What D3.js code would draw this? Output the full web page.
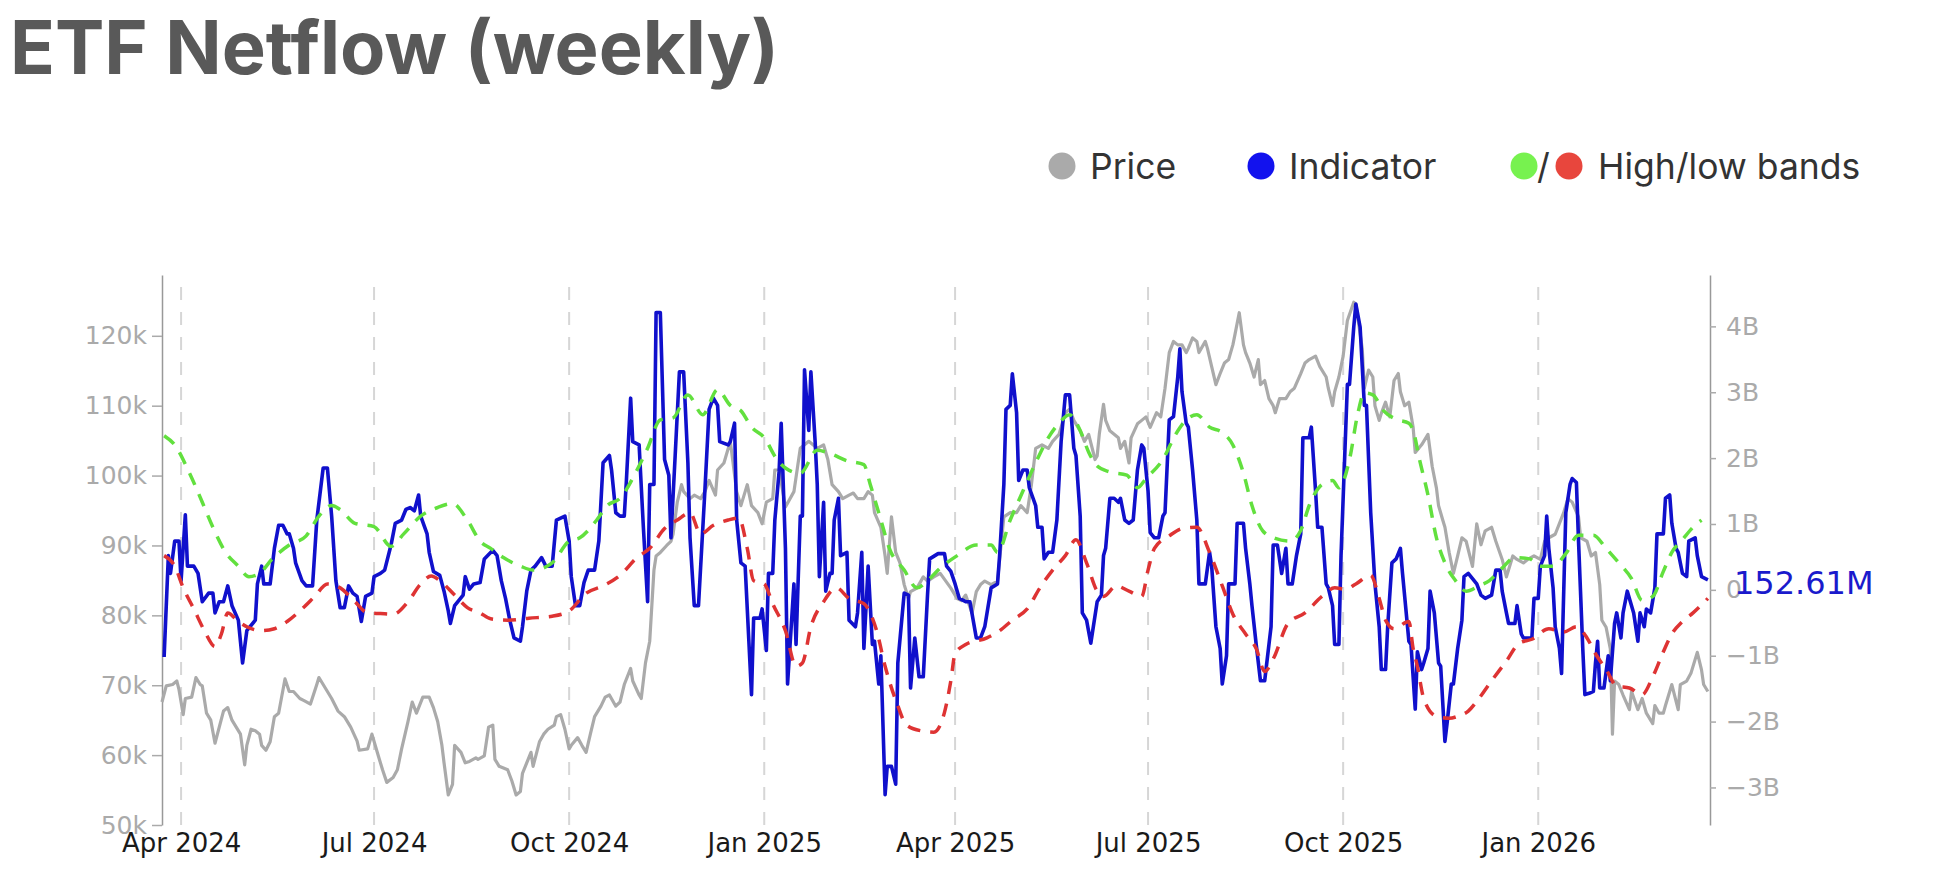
<!DOCTYPE html>
<html>
<head>
<meta charset="utf-8">
<script src="https://cdn.jsdelivr.net/npm/d3@7"></script>
<style>
  body { margin: 0; background: #fff; }
  svg { display: block; }
</style>
</head>
<body>
<svg id="chart" width="1942" height="878"></svg>
<script>
// BTC price, in thousands of USD
const priceK = [
  ["2024-03-23",67.6],["2024-03-25",69.9],["2024-03-28",70.1],["2024-03-30",70.6],["2024-03-31",69.4],["2024-04-02",65.8],["2024-04-03",68.1],["2024-04-06",68.3],["2024-04-08",71.1],["2024-04-10",70.1],["2024-04-11",69.9],["2024-04-13",66.0],["2024-04-15",65.0],["2024-04-17",61.7],["2024-04-19",64.0],["2024-04-21",66.3],["2024-04-23",66.8],["2024-04-25",65.0],["2024-04-27",64.0],["2024-04-29",63.0],["2024-05-01",58.6],["2024-05-02",61.4],["2024-05-04",63.7],["2024-05-06",63.5],["2024-05-08",63.0],["2024-05-09",61.4],["2024-05-11",60.7],["2024-05-13",61.9],["2024-05-15",65.5],["2024-05-17",66.0],["2024-05-20",70.9],["2024-05-22",69.1],["2024-05-24",69.1],["2024-05-27",68.1],["2024-05-29",67.8],["2024-06-01",67.3],["2024-06-04",70.1],["2024-06-05",71.1],["2024-06-08",69.6],["2024-06-11",68.1],["2024-06-14",66.3],["2024-06-17",65.5],["2024-06-20",64.0],["2024-06-23",62.0],["2024-06-24",60.7],["2024-06-28",60.9],["2024-06-30",63.0],["2024-07-03",59.9],["2024-07-05",57.9],["2024-07-07",56.1],["2024-07-10",56.8],["2024-07-12",57.9],["2024-07-14",60.9],["2024-07-17",64.8],["2024-07-19",67.6],["2024-07-21",66.0],["2024-07-24",68.3],["2024-07-27",68.3],["2024-07-29",66.8],["2024-07-31",64.8],["2024-08-02",61.4],["2024-08-03",58.9],["2024-08-05",54.3],["2024-08-07",55.8],["2024-08-08",61.4],["2024-08-11",60.4],["2024-08-13",58.9],["2024-08-15",59.1],["2024-08-18",59.6],
  ["2024-08-19",59.4],["2024-08-22",59.9],["2024-08-24",64.0],["2024-08-26",64.3],["2024-08-27",59.4],["2024-08-29",58.4],["2024-09-02",57.9],["2024-09-04",56.3],["2024-09-06",54.3],["2024-09-08",54.8],["2024-09-09",57.4],["2024-09-11",58.9],["2024-09-13",60.4],["2024-09-14",58.4],["2024-09-17",61.9],["2024-09-19",63.0],["2024-09-21",63.7],["2024-09-24",64.3],["2024-09-25",65.5],["2024-09-27",65.8],["2024-09-29",63.7],["2024-10-01",60.9],["2024-10-02",61.4],["2024-10-05",62.5],["2024-10-07",61.4],["2024-10-09",60.4],["2024-10-11",63.0],["2024-10-13",65.5],["2024-10-16",67.0],["2024-10-18",68.3],["2024-10-20",68.6],["2024-10-23",67.0],["2024-10-25",67.6],["2024-10-27",70.1],["2024-10-30",72.4],["2024-10-31",70.6],["2024-11-03",68.6],["2024-11-04",68.1],["2024-11-06",73.2],["2024-11-08",76.3],["2024-11-10",86.5],["2024-11-11",88.5],["2024-11-13",89.0],["2024-11-16",90.0],["2024-11-18",90.6],["2024-11-19",91.6],["2024-11-21",96.2],["2024-11-23",98.7],["2024-11-24",97.7],["2024-11-27",96.7],["2024-11-29",97.2],["2024-12-02",96.7],["2024-12-04",97.7],["2024-12-06",99.3],["2024-12-09",97.2],["2024-12-10",100.8],["2024-12-13",101.8],["2024-12-16",104.9],["2024-12-19",97.7],["2024-12-21",95.7],["2024-12-24",98.7],["2024-12-26",95.7],["2024-12-29",94.7],["2024-12-31",93.1],["2025-01-02",96.2],["2025-01-05",96.7],["2025-01-06",100.8],["2025-01-08",100.8],["2025-01-11",95.5],
  ["2025-01-15",97.7],["2025-01-18",103.9],["2025-01-20",104.4],["2025-01-22",104.9],["2025-01-26",103.9],["2025-01-29",104.4],["2025-01-31",102.3],["2025-02-02",98.7],["2025-02-05",97.7],["2025-02-07",96.7],["2025-02-10",97.2],["2025-02-12",97.5],["2025-02-14",96.7],["2025-02-17",96.7],["2025-02-19",97.7],["2025-02-21",97.2],["2025-02-22",94.7],["2025-02-25",92.6],["2025-02-27",88.5],["2025-02-28",86.0],["2025-03-02",94.1],["2025-03-04",89.0],["2025-03-06",87.5],["2025-03-08",84.4],["2025-03-10",82.4],["2025-03-11",83.4],["2025-03-14",83.9],["2025-03-17",85.5],["2025-03-19",84.9],["2025-03-22",85.5],["2025-03-25",86.0],["2025-03-30",83.9],["2025-04-02",82.4],["2025-04-04",82.1],["2025-04-06",82.9],["2025-04-09",80.3],["2025-04-11",83.4],["2025-04-13",84.4],["2025-04-15",84.9],["2025-04-18",84.4],["2025-04-21",84.9],["2025-04-24",94.1],["2025-04-27",94.7],["2025-04-30",94.7],["2025-05-02",95.7],["2025-05-05",94.7],["2025-05-07",98.7],["2025-05-09",103.9],["2025-05-12",104.4],["2025-05-15",103.9],["2025-05-17",104.9],["2025-05-20",105.9],["2025-05-23",109.0],["2025-05-25",109.5],["2025-05-27",107.9],["2025-05-30",106.4],["2025-06-01",104.9],["2025-06-03",105.9],["2025-06-06",102.3],["2025-06-07",102.8],
  ["2025-06-08",105.9],["2025-06-10",110.2],["2025-06-11",107.9],["2025-06-13",106.4],["2025-06-15",105.9],["2025-06-17",105.4],["2025-06-18",103.9],["2025-06-20",104.9],["2025-06-22",101.8],["2025-06-23",105.4],["2025-06-26",107.4],["2025-06-28",107.9],["2025-06-30",108.4],["2025-07-02",106.9],["2025-07-05",109.0],["2025-07-07",108.4],["2025-07-09",112.5],["2025-07-11",117.6],["2025-07-13",119.2],["2025-07-15",118.7],["2025-07-17",118.7],["2025-07-19",117.6],["2025-07-20",118.2],["2025-07-22",119.7],["2025-07-24",119.2],["2025-07-25",117.6],["2025-07-28",119.2],["2025-07-29",118.2],["2025-07-31",115.6],["2025-08-02",113.0],["2025-08-04",114.6],["2025-08-06",116.1],["2025-08-08",116.6],["2025-08-10",118.7],["2025-08-11",120.2],["2025-08-13",123.3],["2025-08-15",118.7],["2025-08-16",117.6],["2025-08-18",116.1],["2025-08-20",114.1],["2025-08-22",116.6],["2025-08-23",113.0],["2025-08-25",113.6],["2025-08-27",111.0],["2025-08-29",110.0],["2025-08-30",109.0],["2025-09-01",111.0],["2025-09-04",111.0],["2025-09-06",112.0],["2025-09-08",112.5],["2025-09-11",114.6],["2025-09-13",116.1],["2025-09-15",116.6],["2025-09-18",117.1],["2025-09-20",115.6],["2025-09-23",114.1],["2025-09-24",112.5],["2025-09-26",110.0],["2025-09-27",112.0],["2025-09-29",114.1],["2025-10-01",117.1],["2025-10-03",122.2],["2025-10-06",124.8],["2025-10-07",124.5],["2025-10-10",118.2],["2025-10-11",112.5],["2025-10-13",115.1],["2025-10-15",114.1],["2025-10-16",110.0],["2025-10-18",107.9],["2025-10-19",108.9],["2025-10-21",110.5],["2025-10-23",108.4],["2025-10-25",113.6],["2025-10-27",114.6],["2025-10-28",112.0],["2025-10-30",110.0],["2025-11-01",110.5],
  ["2025-11-03",106.9],["2025-11-04",103.3],["2025-11-07",104.4],["2025-11-09",105.4],["2025-11-10",105.9],["2025-11-12",101.3],["2025-11-14",98.2],["2025-11-15",95.7],["2025-11-17",93.6],["2025-11-18",92.6],["2025-11-20",89.0],["2025-11-22",86.0],["2025-11-24",88.5],["2025-11-26",91.1],["2025-11-28",90.6],["2025-12-01",87.0],["2025-12-03",93.1],["2025-12-05",90.1],["2025-12-07",92.1],["2025-12-10",92.6],["2025-12-12",90.6],["2025-12-15",88.0],["2025-12-17",85.5],["2025-12-20",88.5],["2025-12-22",88.0],["2025-12-25",87.5],["2025-12-27",88.0],["2025-12-30",88.5],["2026-01-02",88.0],["2026-01-04",90.6],["2026-01-06",91.1],["2026-01-09",91.6],["2026-01-13",94.7],["2026-01-15",96.7],["2026-01-17",96.2],["2026-01-20",94.1],["2026-01-21",91.1],["2026-01-24",90.6],["2026-01-26",88.5],["2026-01-28",89.0],["2026-01-30",84.4],["2026-01-31",79.3],["2026-02-02",78.3],["2026-02-04",75.2],["2026-02-05",63.0],["2026-02-06",70.6],["2026-02-08",70.1],["2026-02-10",68.6],["2026-02-13",66.5],["2026-02-14",69.1],["2026-02-17",66.5],["2026-02-19",68.1],["2026-02-21",66.0],["2026-02-24",64.5],["2026-02-25",67.1],["2026-02-27",66.0],["2026-03-01",66.0],["2026-03-02",67.1],["2026-03-04",69.1],["2026-03-05",70.1],["2026-03-08",66.5],["2026-03-09",70.1],["2026-03-12",70.6],["2026-03-14",71.7],["2026-03-16",73.7],["2026-03-17",74.7],["2026-03-19",72.2],["2026-03-20",70.1],["2026-03-22",69.1]
];

// ETF netflow indicator, in billions of USD
const netflowB = [
  ["2024-03-24",-1.02],["2024-03-26",0.52],["2024-03-27",0.25],["2024-03-29",0.74],["2024-03-31",0.74],["2024-04-01",0.14],["2024-04-03",1.14],["2024-04-04",0.36],["2024-04-07",0.36],["2024-04-09",0.25],["2024-04-11",-0.18],["2024-04-14",-0.05],["2024-04-16",-0.05],["2024-04-17",-0.35],["2024-04-19",-0.18],["2024-04-21",-0.18],["2024-04-23",0.06],["2024-04-25",-0.24],["2024-04-28",-0.46],["2024-04-30",-1.11],["2024-05-02",-0.62],["2024-05-06",-0.46],["2024-05-07",0.09],["2024-05-09",0.36],["2024-05-10",0.09],["2024-05-13",0.09],["2024-05-15",0.63],["2024-05-17",0.98],["2024-05-19",0.98],["2024-05-21",0.85],["2024-05-22",0.85],["2024-05-24",0.63],["2024-05-25",0.41],["2024-05-28",0.14],["2024-05-30",0.06],["2024-06-02",0.06],["2024-06-04",1.06],["2024-06-07",1.85],["2024-06-09",1.85],["2024-06-11",1.12],["2024-06-13",0.14],["2024-06-15",-0.27],["2024-06-17",-0.27],["2024-06-19",0.06],["2024-06-21",-0.05],["2024-06-23",-0.10],["2024-06-25",-0.48],["2024-06-27",-0.10],["2024-06-30",-0.05],["2024-07-01",0.20],["2024-07-04",0.25],["2024-07-06",0.30],["2024-07-09",0.68],["2024-07-11",1.01],["2024-07-14",1.06],["2024-07-16",1.22],["2024-07-18",1.25],["2024-07-20",1.20],["2024-07-22",1.44],["2024-07-23",1.12],["2024-07-26",0.85],["2024-07-27",0.57],["2024-07-29",0.28],["2024-08-01",0.22],["2024-08-03",-0.02],["2024-08-05",-0.32],["2024-08-06",-0.51],["2024-08-08",-0.24],["2024-08-10",-0.16],["2024-08-12",-0.08],["2024-08-13",0.20],["2024-08-15",0.01],["2024-08-17",0.09],["2024-08-20",0.11],
  ["2024-08-22",0.47],["2024-08-26",0.60],["2024-08-28",0.52],["2024-08-30",0.14],["2024-09-01",-0.13],["2024-09-03",-0.46],["2024-09-05",-0.73],["2024-09-08",-0.78],["2024-09-09",-0.56],["2024-09-11",-0.02],["2024-09-13",0.30],["2024-09-15",0.36],["2024-09-18",0.49],["2024-09-20",0.36],["2024-09-23",0.36],["2024-09-25",1.06],["2024-09-29",1.12],["2024-10-01",0.74],["2024-10-02",0.20],["2024-10-04",-0.24],["2024-10-06",-0.24],["2024-10-08",0.11],["2024-10-10",0.30],["2024-10-13",0.30],["2024-10-15",0.74],["2024-10-17",1.93],["2024-10-20",2.04],["2024-10-21",1.82],["2024-10-23",1.17],["2024-10-25",1.12],["2024-10-27",1.12],["2024-10-28",1.66],["2024-10-30",2.91],["2024-10-31",2.25],["2024-11-03",2.20],["2024-11-05",0.95],["2024-11-07",-0.18],["2024-11-08",1.60],["2024-11-10",1.60],["2024-11-11",4.21],["2024-11-13",4.21],["2024-11-15",1.98],["2024-11-17",1.74],["2024-11-18",0.79],["2024-11-20",2.04],["2024-11-22",3.31],["2024-11-24",3.31],["2024-11-26",1.93],["2024-11-27",0.79],["2024-11-29",-0.24],["2024-12-01",-0.24],["2024-12-04",1.50],["2024-12-06",2.74],["2024-12-08",2.91],["2024-12-10",2.80],["2024-12-11",2.25],["2024-12-15",2.20],["2024-12-16",2.25],["2024-12-18",2.53],["2024-12-19",1.06],["2024-12-21",0.41],["2024-12-23",0.36],["2024-12-26",-1.59],["2024-12-27",-0.43],["2024-12-30",-0.43],["2024-12-31",-0.29],["2025-01-02",-0.92],["2025-01-03",0.25],["2025-01-05",0.25],["2025-01-06",1.06],["2025-01-08",1.79],["2025-01-09",2.53],["2025-01-11",0.63],["2025-01-12",-1.43],
  ["2025-01-15",0.09],["2025-01-16",-0.83],["2025-01-18",1.12],["2025-01-19",1.12],["2025-01-20",3.34],["2025-01-22",2.42],["2025-01-23",3.31],["2025-01-25",2.25],["2025-01-26",1.60],["2025-01-27",0.20],["2025-01-29",1.33],["2025-01-30",-0.02],["2025-02-01",0.25],["2025-02-02",0.25],["2025-02-03",1.06],["2025-02-05",1.39],["2025-02-06",0.52],["2025-02-09",0.57],["2025-02-10",-0.46],["2025-02-13",-0.56],["2025-02-14",-0.35],["2025-02-16",0.57],["2025-02-17",-0.89],["2025-02-19",0.36],["2025-02-21",-0.83],["2025-02-22",-0.78],["2025-02-24",-1.43],["2025-02-25",-1.00],["2025-02-27",-3.11],["2025-02-28",-2.68],["2025-03-02",-2.68],["2025-03-04",-2.95],["2025-03-05",-1.11],["2025-03-08",-0.05],["2025-03-10",-0.08],["2025-03-11",-1.49],["2025-03-13",-0.73],["2025-03-15",-1.32],["2025-03-17",-1.32],["2025-03-19",-0.08],["2025-03-20",0.47],["2025-03-24",0.55],["2025-03-27",0.55],["2025-03-28",0.36],["2025-03-30",0.28],["2025-04-01",0.09],["2025-04-03",-0.13],["2025-04-06",-0.18],["2025-04-08",-0.18],["2025-04-11",-0.73],["2025-04-13",-0.73],["2025-04-15",-0.56],["2025-04-18",0.03],["2025-04-21",0.09],["2025-04-22",0.52],["2025-04-24",1.60],["2025-04-25",2.74],["2025-04-27",2.80],["2025-04-28",3.28],["2025-04-30",2.69],["2025-05-01",1.66],["2025-05-03",1.82],["2025-05-05",1.82],["2025-05-06",1.55],["2025-05-09",1.28],["2025-05-10",0.95],["2025-05-12",0.95],["2025-05-13",0.47],["2025-05-15",0.57],["2025-05-17",0.57],["2025-05-19",1.06],["2025-05-21",2.25],["2025-05-23",2.96],["2025-05-25",2.96],["2025-05-27",2.15],["2025-05-28",2.04],["2025-05-30",1.12],["2025-05-31",-0.35],["2025-06-02",-0.46],["2025-06-04",-0.81],["2025-06-07",-0.18],
  ["2025-06-09",-0.08],["2025-06-10",0.52],["2025-06-11",0.63],["2025-06-13",1.39],["2025-06-15",1.39],["2025-06-17",1.33],["2025-06-18",1.39],["2025-06-20",1.06],["2025-06-22",1.01],["2025-06-24",1.06],["2025-06-26",1.82],["2025-06-28",2.20],["2025-06-29",2.15],["2025-07-01",1.50],["2025-07-02",0.87],["2025-07-04",0.79],["2025-07-06",0.79],["2025-07-08",1.12],["2025-07-09",1.17],["2025-07-11",2.58],["2025-07-13",2.63],["2025-07-15",3.23],["2025-07-16",3.66],["2025-07-17",3.01],["2025-07-19",2.53],["2025-07-20",2.47],["2025-07-22",1.82],["2025-07-24",1.06],["2025-07-25",0.09],["2025-07-28",0.09],["2025-07-30",0.57],["2025-07-31",0.36],["2025-08-02",-0.56],["2025-08-04",-0.89],["2025-08-05",-1.43],["2025-08-07",-1.00],["2025-08-08",0.09],["2025-08-11",0.09],["2025-08-12",1.01],["2025-08-15",1.01],["2025-08-16",0.63],["2025-08-18",0.09],["2025-08-19",-0.24],["2025-08-21",-0.83],["2025-08-23",-1.38],["2025-08-25",-1.38],["2025-08-28",-0.56],["2025-08-29",0.68],["2025-08-31",0.68],["2025-09-02",0.25],["2025-09-04",0.63],["2025-09-05",0.09],["2025-09-07",0.09],["2025-09-09",0.52],["2025-09-11",0.85],["2025-09-12",2.31],["2025-09-15",2.31],["2025-09-16",2.47],["2025-09-18",1.50],["2025-09-19",0.95],["2025-09-21",0.95],["2025-09-23",0.09],["2025-09-24",0.03],["2025-09-26",-0.24],["2025-09-27",-0.83],["2025-09-29",-0.83],["2025-09-30",0.52],["2025-10-03",3.12],["2025-10-04",3.12],["2025-10-06",3.99],["2025-10-07",4.34],["2025-10-09",3.99],["2025-10-11",2.80],["2025-10-12",2.80],["2025-10-14",1.17],["2025-10-16",0.09],["2025-10-18",-0.56],["2025-10-19",-1.21],["2025-10-21",-1.21],["2025-10-22",-0.56],["2025-10-24",0.41],["2025-10-26",0.47],["2025-10-28",0.63],["2025-10-29",0.25],["2025-11-01",-0.78],
  ["2025-11-02",-0.83],["2025-11-04",-1.81],["2025-11-05",-0.94],["2025-11-07",-1.21],["2025-11-08",-1.11],["2025-11-10",-0.89],["2025-11-11",-0.02],["2025-11-13",-0.35],["2025-11-15",-1.11],["2025-11-16",-1.16],["2025-11-18",-2.30],["2025-11-19",-2.03],["2025-11-21",-1.43],["2025-11-22",-1.43],["2025-11-24",-0.89],["2025-11-26",-0.46],["2025-11-27",0.20],["2025-11-29",0.25],["2025-12-03",0.09],["2025-12-05",-0.08],["2025-12-07",-0.13],["2025-12-10",-0.08],["2025-12-12",0.30],["2025-12-14",0.30],["2025-12-15",-0.02],["2025-12-17",-0.35],["2025-12-18",-0.51],["2025-12-21",-0.51],["2025-12-22",-0.24],["2025-12-24",-0.67],["2025-12-25",-0.73],["2025-12-29",-0.73],["2025-12-30",-0.13],["2026-01-01",-0.13],["2026-01-02",0.36],["2026-01-04",0.52],["2026-01-05",1.12],["2026-01-06",0.63],["2026-01-08",0.03],["2026-01-09",-0.56],["2026-01-11",-0.89],["2026-01-12",-1.27],["2026-01-14",1.17],["2026-01-16",1.60],["2026-01-17",1.69],["2026-01-19",1.63],["2026-01-20",0.74],["2026-01-22",-0.89],["2026-01-23",-1.59],["2026-01-25",-1.57],["2026-01-27",-1.54],["2026-01-28",-1.11],["2026-01-29",-0.78],["2026-01-30",-1.49],["2026-02-01",-1.49],["2026-02-03",-1.00],["2026-02-04",-1.38],["2026-02-06",-0.51],["2026-02-07",-0.35],["2026-02-09",-0.73],["2026-02-10",-0.35],["2026-02-12",-0.02],["2026-02-14",-0.24],["2026-02-15",-0.35],["2026-02-17",-0.78],["2026-02-18",-0.35],["2026-02-20",-0.56],["2026-02-21",-0.29],["2026-02-23",-0.35],["2026-02-25",0.03],["2026-02-26",0.85],["2026-03-01",0.85],["2026-03-02",1.39],["2026-03-04",1.44],["2026-03-05",1.01],["2026-03-07",0.63],["2026-03-08",0.57],["2026-03-10",0.25],["2026-03-12",0.20],["2026-03-13",0.74],["2026-03-16",0.79],["2026-03-17",0.52],["2026-03-19",0.20],["2026-03-22",0.15261]
];

// high band (green) and low band (red), billions
const highBand = [
  ["2024-03-24",2.34],["2024-03-29",2.20],["2024-04-05",1.77],["2024-04-11",1.33],["2024-04-16",0.95],["2024-04-22",0.57],["2024-04-28",0.36],["2024-05-03",0.20],["2024-05-08",0.25],["2024-05-14",0.47],["2024-05-22",0.68],["2024-05-30",0.82],["2024-06-05",1.12],["2024-06-11",1.28],["2024-06-15",1.22],["2024-06-22",1.01],["2024-07-01",0.96],["2024-07-09",0.66],["2024-07-15",0.85],["2024-07-23",1.12],["2024-07-31",1.25],["2024-08-07",1.31],["2024-08-14",1.06],["2024-08-20",0.74],
  ["2024-08-25",0.63],["2024-08-31",0.49],["2024-09-08",0.36],["2024-09-14",0.30],["2024-09-23",0.41],["2024-10-01",0.74],["2024-10-06",0.79],["2024-10-14",1.06],["2024-10-19",1.28],["2024-10-25",1.39],["2024-11-02",1.82],["2024-11-07",2.15],["2024-11-13",2.58],["2024-11-19",2.61],["2024-11-26",2.96],["2024-12-03",2.66],["2024-12-10",3.04],["2024-12-16",2.80],["2024-12-21",2.72],["2024-12-26",2.47],["2025-01-01",2.31],["2025-01-07",1.98],["2025-01-11",1.85],
  ["2025-01-18",1.77],["2025-01-26",2.12],["2025-02-01",2.07],["2025-02-09",1.96],["2025-02-17",1.90],["2025-02-20",1.60],["2025-02-25",1.06],["2025-03-01",0.63],["2025-03-08",0.30],["2025-03-14",0.03],["2025-03-19",0.14],["2025-03-25",0.33],["2025-04-02",0.52],["2025-04-11",0.68],["2025-04-18",0.68],["2025-04-21",0.57],["2025-04-27",1.06],["2025-05-03",1.50],["2025-05-09",1.93],["2025-05-15",2.31],["2025-05-20",2.53],["2025-05-25",2.66],["2025-05-30",2.42],["2025-06-03",2.09],["2025-06-07",1.88],
  ["2025-06-13",1.79],["2025-06-21",1.74],["2025-06-26",1.55],["2025-06-30",1.69],["2025-07-08",1.98],["2025-07-14",2.36],["2025-07-19",2.58],["2025-07-24",2.66],["2025-07-30",2.47],["2025-08-05",2.39],["2025-08-10",2.20],["2025-08-15",1.77],["2025-08-19",1.28],["2025-08-24",0.90],["2025-08-30",0.78],["2025-09-06",0.74],["2025-09-11",0.90],["2025-09-15",1.28],["2025-09-21",1.60],["2025-09-26",1.66],["2025-09-29",1.55],["2025-10-04",1.98],["2025-10-08",2.69],["2025-10-11",2.99],["2025-10-15",2.96],["2025-10-20",2.72],["2025-10-26",2.59],["2025-11-01",2.53],
  ["2025-11-03",2.42],["2025-11-06",1.98],["2025-11-10",1.44],["2025-11-14",0.79],["2025-11-18",0.41],["2025-11-23",0.14],["2025-11-28",-0.02],["2025-12-04",0.06],["2025-12-09",0.14],["2025-12-15",0.33],["2025-12-21",0.49],["2025-12-28",0.47],["2026-01-02",0.36],["2026-01-08",0.36],["2026-01-14",0.55],["2026-01-20",0.83],["2026-01-27",0.83],["2026-02-02",0.63],["2026-02-08",0.41],["2026-02-14",0.17],["2026-02-19",-0.16],["2026-02-24",-0.10],["2026-03-01",0.28],["2026-03-05",0.57],["2026-03-10",0.76],["2026-03-15",0.95],["2026-03-19",1.06]
];

const lowBand = [
  ["2024-03-24",0.52],["2024-03-29",0.36],["2024-04-02",0.03],["2024-04-07",-0.29],["2024-04-12",-0.62],["2024-04-17",-0.86],["2024-04-20",-0.67],["2024-04-23",-0.35],["2024-04-28",-0.48],["2024-05-02",-0.56],["2024-05-09",-0.62],["2024-05-15",-0.59],["2024-05-21",-0.48],["2024-05-28",-0.29],["2024-06-03",-0.10],["2024-06-09",0.09],["2024-06-15",0.03],["2024-06-22",-0.18],["2024-06-28",-0.35],["2024-07-04",-0.36],["2024-07-10",-0.37],["2024-07-17",-0.18],["2024-07-23",0.09],["2024-07-28",0.21],["2024-08-01",0.14],["2024-08-08",-0.08],["2024-08-14",-0.27],["2024-08-20",-0.35],
  ["2024-08-25",-0.44],["2024-09-02",-0.46],["2024-09-12",-0.43],["2024-09-23",-0.40],["2024-10-01",-0.32],["2024-10-09",-0.05],["2024-10-17",0.06],["2024-10-25",0.22],["2024-11-02",0.49],["2024-11-08",0.63],["2024-11-15",0.93],["2024-11-21",1.06],["2024-11-27",1.17],["2024-12-02",0.85],["2024-12-08",0.98],["2024-12-15",1.06],["2024-12-20",1.09],["2024-12-24",0.63],["2024-12-27",0.14],["2025-01-01",0.09],["2025-01-05",-0.21],["2025-01-11",-0.62],
  ["2025-01-16",-1.16],["2025-01-19",-1.11],["2025-01-23",-0.56],["2025-01-29",-0.18],["2025-02-04",0.03],["2025-02-10",-0.13],["2025-02-17",-0.21],["2025-02-23",-0.62],["2025-02-27",-1.16],["2025-03-05",-1.76],["2025-03-09",-2.05],["2025-03-16",-2.14],["2025-03-22",-2.16],["2025-03-27",-1.86],["2025-03-30",-1.38],["2025-04-01",-0.97],["2025-04-06",-0.83],["2025-04-16",-0.73],["2025-04-22",-0.62],["2025-04-28",-0.46],["2025-05-05",-0.29],["2025-05-11",0.03],["2025-05-17",0.30],["2025-05-23",0.52],["2025-05-28",0.76],["2025-06-02",0.41],["2025-06-07",-0.02],
  ["2025-06-10",-0.10],["2025-06-16",0.06],["2025-06-22",-0.02],["2025-06-28",-0.10],["2025-07-01",0.30],["2025-07-04",0.63],["2025-07-11",0.82],["2025-07-17",0.93],["2025-07-24",0.95],["2025-07-30",0.57],["2025-08-05",0.06],["2025-08-10",-0.37],["2025-08-16",-0.67],["2025-08-21",-0.89],["2025-08-25",-1.24],["2025-08-29",-1.05],["2025-09-05",-0.51],["2025-09-13",-0.35],["2025-09-21",-0.10],["2025-09-27",0.03],["2025-10-02",0.01],["2025-10-07",0.09],["2025-10-14",0.22],["2025-10-18",-0.13],["2025-10-21",-0.46],["2025-10-25",-0.59],["2025-11-01",-0.48],
  ["2025-11-03",-0.89],["2025-11-05",-1.16],["2025-11-08",-1.65],["2025-11-14",-1.92],["2025-11-20",-1.95],["2025-11-24",-1.92],["2025-11-29",-1.84],["2025-12-04",-1.65],["2025-12-10",-1.38],["2025-12-17",-1.08],["2025-12-23",-0.81],["2025-12-29",-0.75],["2026-01-06",-0.59],["2026-01-13",-0.64],["2026-01-19",-0.56],["2026-01-24",-0.73],["2026-01-28",-0.97],["2026-02-02",-1.21],["2026-02-07",-1.46],["2026-02-13",-1.49],["2026-02-19",-1.59],["2026-02-24",-1.32],["2026-03-01",-0.94],["2026-03-05",-0.67],["2026-03-10",-0.48],["2026-03-15",-0.35],["2026-03-22",-0.13]
];

const priceTicks = [50, 60, 70, 80, 90, 100, 110, 120];
const flowTicks = [-3, -2, -1, 0, 1, 2, 3, 4];
const quarterTicks = ["2024-04-01", "2024-07-01", "2024-10-01", "2025-01-01", "2025-04-01", "2025-07-01", "2025-10-01", "2026-01-01"];
const legendItems = [
  {label: "Price", colors: ["#aaaaaa"]},
  {label: "Indicator", colors: ["#1212ee"]},
  {label: "High/low bands", colors: ["#77f24f", "#e8463d"]}
];
const lastValueLabel = "152.61M";

const parse = d3.timeParse("%Y-%m-%d");
const svg = d3.select("#chart");

const x = d3.scaleTime()
  .domain([parse("2024-03-23"), parse("2026-03-23")])
  .range([162, 1710]);
const yPrice = d3.scaleLinear().domain([50, 128.7]).range([825, 275]);
const yFlow = d3.scaleLinear().domain([-3.57, 4.78]).range([825, 275]);

svg.append("rect").attr("width", 1942).attr("height", 878).attr("fill", "#fff");

// title
svg.append("text")
  .attr("x", 10).attr("y", 74)
  .attr("font-family", "Inter, 'Noto Sans', sans-serif")
  .attr("font-weight", 700)
  .attr("font-size", 74)
  .attr("fill", "#595959")
  .text("ETF Netflow (weekly)");

// legend
const legend = svg.append("g").attr("font-family", "Inter, 'Noto Sans', sans-serif").attr("font-size", 35.5).attr("fill", "#333");
const legendX = [1062, 1261, 1524];
legendItems.forEach((item, i) => {
  const g = legend.append("g").attr("transform", `translate(${legendX[i]},166)`);
  g.append("circle").attr("r", 13.5).attr("fill", item.colors[0]);
  if (item.colors.length === 1) {
    g.append("text").attr("x", 28).attr("y", 12.5).text(item.label);
  } else {
    g.append("text").attr("x", 13).attr("y", 12.5).text("/");
    g.append("circle").attr("cx", 45).attr("r", 13.5).attr("fill", item.colors[1]);
    g.append("text").attr("x", 74).attr("y", 12.5).text(item.label);
  }
});

// dashed quarter gridlines
svg.append("g").selectAll("line")
  .data(quarterTicks)
  .join("line")
  .attr("x1", d => x(parse(d))).attr("x2", d => x(parse(d)))
  .attr("y1", 287).attr("y2", 825)
  .attr("stroke", "#d6d6d6")
  .attr("stroke-width", 2)
  .attr("stroke-dasharray", "13,12");

// axes
const leftAxis = svg.append("g")
  .attr("transform", "translate(162,0)")
  .call(d3.axisLeft(yPrice).tickValues(priceTicks).tickSize(10).tickSizeOuter(0).tickPadding(5).tickFormat(d => d + "k"));

const fmtB = d => d === 0 ? "0" : (d < 0 ? "\u2212" + Math.abs(d) : d) + "B";
const rightAxis = svg.append("g")
  .attr("transform", "translate(1710,0)")
  .call(d3.axisRight(yFlow).tickValues(flowTicks).tickSize(6).tickSizeOuter(0).tickPadding(10).tickFormat(fmtB));

[leftAxis, rightAxis].forEach(a => {
  a.select(".domain").attr("stroke", "#999").attr("stroke-width", 1.5);
  a.selectAll(".tick line").attr("stroke", "#aaa").attr("stroke-width", 1.5);
  a.selectAll(".tick text")
    .attr("fill", "#aaa")
    .attr("font-family", "'DejaVu Sans', sans-serif")
    .attr("font-size", 25);
});

const bottomAxis = svg.append("g")
  .attr("transform", "translate(0,825)")
  .call(d3.axisBottom(x).tickValues(quarterTicks.map(parse)).tickSize(0).tickFormat(d3.timeFormat("%b %Y")));
bottomAxis.select(".domain").remove();
bottomAxis.selectAll(".tick text")
  .attr("y", 27).attr("dy", 0)
  .attr("fill", "#1a1a1a")
  .attr("font-family", "'DejaVu Sans', sans-serif")
  .attr("font-size", 26);

// series
const priceLine = d3.line().x(d => x(parse(d[0]))).y(d => yPrice(d[1]));
const flowLine = d3.line().x(d => x(parse(d[0]))).y(d => yFlow(d[1]));
const bandLine = d3.line().curve(d3.curveMonotoneX).x(d => x(parse(d[0]))).y(d => yFlow(d[1]));

svg.append("path").datum(priceK)
  .attr("d", priceLine).attr("fill", "none")
  .attr("stroke", "#aaaaaa").attr("stroke-width", 3.2).attr("stroke-linejoin", "round");

svg.append("path").datum(netflowB)
  .attr("d", flowLine).attr("fill", "none")
  .attr("stroke", "#1010cc").attr("stroke-width", 3.6).attr("stroke-linejoin", "round");

svg.append("path").datum(highBand)
  .attr("d", bandLine).attr("fill", "none")
  .attr("stroke", "#62e03e").attr("stroke-width", 3.5).attr("stroke-dasharray", "13,10");

svg.append("path").datum(lowBand)
  .attr("d", bandLine).attr("fill", "none")
  .attr("stroke", "#de3333").attr("stroke-width", 3.5).attr("stroke-dasharray", "13,10");

// last value tag
const last = netflowB[netflowB.length - 1];
svg.append("text")
  .attr("x", 1734).attr("y", yFlow(last[1]) + 14)
  .attr("font-family", "'DejaVu Sans', sans-serif")
  .attr("font-size", 32)
  .attr("fill", "#1a1acc")
  .text(lastValueLabel);
</script>
</body>
</html>
